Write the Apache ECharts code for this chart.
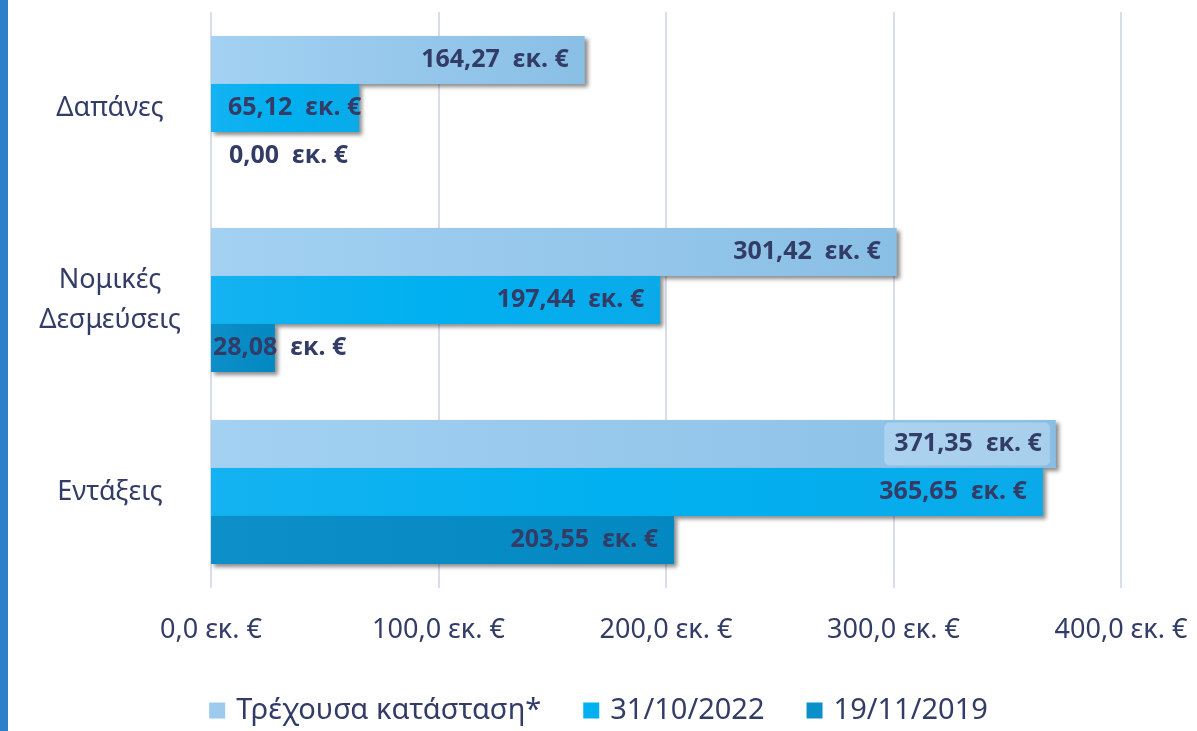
<!DOCTYPE html>
<html>
<head>
<meta charset="utf-8">
<script src="https://cdn.jsdelivr.net/npm/echarts@6/dist/echarts.min.js"></script>
<style>
  html, body { margin: 0; padding: 0; background: #fff; }
  #chart { width: 1197px; height: 731px; }
</style>
</head>
<body>
<div id="chart"></div>
<script>
// categories, top to bottom
var categories = ['Δαπάνες', 'Νομικές\nΔεσμεύσεις', 'Εντάξεις'];
var seriesNames = ['Τρέχουσα κατάσταση*', '31/10/2022', '19/11/2019'];
var currentValues = [164.27, 301.42, 371.35];
var oct2022Values = [65.12, 197.44, 365.65];
var nov2019Values = [0, 28.08, 203.55];
var axisTicks = [0, 100, 200, 300, 400];

var textColor = '#323c66';
var font = '"Noto Sans", sans-serif';

function fmt(v, digits) {
    return v.toFixed(digits).replace('.', ',');
}

var fills = [
    { type: 'linear', x: 0, y: 0, x2: 1, y2: 0,
      colorStops: [{ offset: 0, color: '#a2d1f2' }, { offset: 1, color: '#8abfe5' }] },
    { type: 'linear', x: 0, y: 0, x2: 1, y2: 0,
      colorStops: [{ offset: 0, color: '#14b2f0' }, { offset: 0.5, color: '#00b0f0' }, { offset: 1, color: '#0aaae9' }] },
    { type: 'linear', x: 0, y: 0, x2: 1, y2: 0,
      colorStops: [{ offset: 0, color: '#0d8fc9' }, { offset: 1, color: '#0388c2' }] }
];
var legendColors = ['#9ccbee', '#00b0f0', '#0b8fc8'];

// short bars: label starts from the axis instead of the bar end
function smallLabel(v) {
    if (v === 0) return { position: 'insideLeft', distance: 18 };
    if (v < 40) return { position: 'insideLeft', distance: 2 };
    return { position: 'insideLeft', distance: 17 };
}

function makeSeries(name, values, idx) {
    return {
        name: name,
        type: 'bar',
        barGap: '0%',
        barCategoryGap: '25%',
        itemStyle: {
            color: fills[idx],
            shadowColor: 'rgba(0,0,0,0.45)',
            shadowBlur: 4,
            shadowOffsetX: 3,
            shadowOffsetY: 3
        },
        label: {
            show: true,
            position: 'insideRight',
            distance: 16,
            color: textColor,
            fontFamily: font,
            fontWeight: 'bold',
            fontSize: 25,
            formatter: function (p) { return fmt(p.value, 2) + '  εκ. €'; }
        },
        data: values.map(function (v) {
            var item = { value: v };
            if (v < 100) {
                item.label = smallLabel(v);
            }
            if (idx === 0 && v === Math.max.apply(null, values)) {
                item.label = {
                    backgroundColor: 'rgba(255,255,255,0.25)',
                    borderRadius: 5,
                    padding: [9, 8, 9, 10],
                    distance: 6
                };
            }
            return item;
        })
    };
}

var option = {
    backgroundColor: '#ffffff',
    animation: false,
    graphic: [{
        type: 'rect',
        left: 0, top: 0,
        shape: { width: 8, height: 731 },
        style: { fill: '#2a80c9' }
    }],
    legend: {
        data: seriesNames.map(function (n, i) {
            return { name: n, itemStyle: { color: legendColors[i], shadowBlur: 0, shadowOffsetX: 0, shadowOffsetY: 0 } };
        }),
        left: 'center',
        bottom: 1,
        icon: 'rect',
        itemWidth: 16,
        itemHeight: 16,
        itemGap: 42,
        textStyle: { color: textColor, fontFamily: font, fontSize: 29, padding: [0, 0, 0, 6] }
    },
    grid: {
        left: 211,
        right: 76,
        top: 12,
        bottom: 143,
        containLabel: false
    },
    xAxis: {
        type: 'value',
        min: axisTicks[0],
        max: axisTicks[axisTicks.length - 1],
        interval: axisTicks[1] - axisTicks[0],
        axisLine: { show: false },
        axisTick: { show: false },
        splitLine: { lineStyle: { color: '#d9dceb', width: 2 } },
        axisLabel: {
            margin: 29,
            color: textColor,
            fontFamily: font,
            fontSize: 27,
            formatter: function (v) { return fmt(v, 1) + ' εκ. €'; }
        }
    },
    yAxis: {
        type: 'category',
        inverse: true,
        data: categories,
        axisLine: { show: false },
        axisTick: { show: false },
        axisLabel: {
            margin: 101,
            align: 'center',
            color: textColor,
            fontFamily: font,
            fontSize: 27,
            lineHeight: 40
        }
    },
    series: [
        makeSeries(seriesNames[0], currentValues, 0),
        makeSeries(seriesNames[1], oct2022Values, 1),
        makeSeries(seriesNames[2], nov2019Values, 2)
    ]
};

var chart = echarts.init(document.getElementById('chart'));
chart.setOption(option);
</script>
</body>
</html>
